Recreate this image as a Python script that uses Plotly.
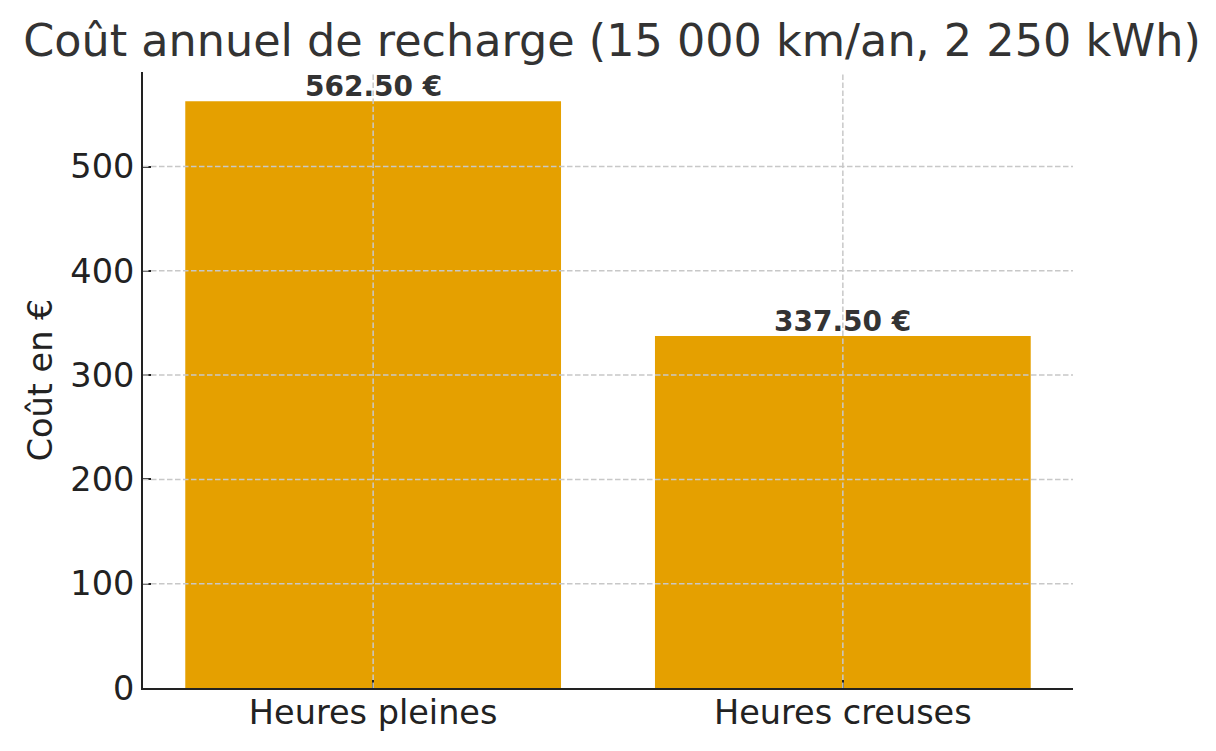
import plotly.graph_objects as go

# Données
categories = ["Heures pleines", "Heures creuses"]
couts = [562.50, 337.50]
y_ticks = [0, 100, 200, 300, 400, 500]

BAR_COLOR = "#E5A000"
GRID_COLOR = "#c8c8c8"
AXIS_COLOR = "#222222"
FONT = "DejaVu Sans"

fig = go.Figure()

fig.add_trace(go.Bar(
    x=categories,
    y=couts,
    width=0.8,
    marker_color=BAR_COLOR,
    marker_line_width=0,
    hovertemplate="%{x}: %{y:.2f} €<extra></extra>",
))

# étiquettes de valeur au-dessus des barres
for cat, v in zip(categories, couts):
    fig.add_annotation(
        x=cat, y=v, text=f"<b>{v:.2f} €</b>",
        showarrow=False, yanchor="bottom", yshift=-4,
        font=dict(family=FONT, size=28, color="#333333"),
    )

# grille en pointillés au-dessus des barres (comme l'original)
grid_line = dict(color=GRID_COLOR, width=1.5, dash="5.5px,2.5px")
grid_shapes = []
for t in y_ticks[1:]:
    grid_shapes.append(dict(
        type="line", xref="paper", yref="y", x0=0, x1=1, y0=t, y1=t,
        line=grid_line, layer="above",
    ))
for c in categories:
    grid_shapes.append(dict(
        type="line", xref="x", yref="paper", x0=c, x1=c, y0=0, y1=1,
        line=grid_line, layer="above",
    ))

# la page ajoute ~8 px de marge au body : on compense
fig.update_layout(
    width=1208,
    height=743,
    title=dict(
        text="Coût annuel de recharge (15 000 km/an, 2 250 kWh)",
        font=dict(family=FONT, size=44.5, color="#333333"),
        x=0.5, xanchor="center", y=0.957, yanchor="middle",
    ),
    font=dict(family=FONT, size=33.5, color=AXIS_COLOR),
    plot_bgcolor="white",
    paper_bgcolor="white",
    margin=dict(l=135, r=143, t=64, b=63, autoexpand=False),
    showlegend=False,
    bargap=0.2,
    shapes=grid_shapes,
    xaxis=dict(
        range=[-0.49, 1.49],
        showgrid=False,
        showline=True, linecolor=AXIS_COLOR, linewidth=2,
        ticks="inside", ticklen=8, tickwidth=2, tickcolor=AXIS_COLOR,
        tickfont=dict(family=FONT, size=33.5, color=AXIS_COLOR),
        ticklabelstandoff=-6,
        automargin=False,
    ),
    yaxis=dict(
        range=[0, 590.6],
        tickvals=y_ticks,
        showgrid=False,
        zeroline=False,
        showline=True, linecolor=AXIS_COLOR, linewidth=2,
        ticks="inside", ticklen=8, tickwidth=2, tickcolor=AXIS_COLOR,
        tickfont=dict(family=FONT, size=33.5, color=AXIS_COLOR),
        title=dict(text="Coût en €", font=dict(family=FONT, size=33.5, color=AXIS_COLOR), standoff=8),
        automargin=False,
    ),
)

fig.write_html("out.html")
